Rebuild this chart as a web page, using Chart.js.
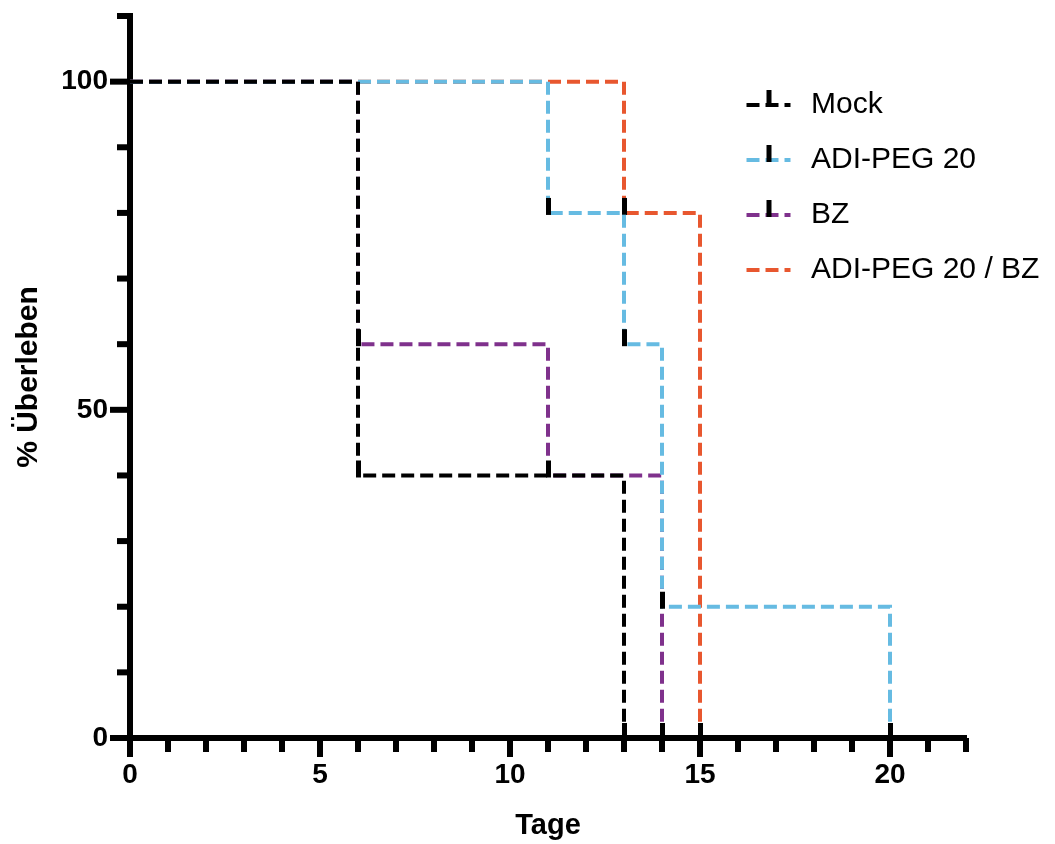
<!DOCTYPE html>
<html>
<head>
<meta charset="utf-8">
<script src="https://cdn.jsdelivr.net/npm/chart.js@4.4.1/dist/chart.umd.min.js"></script>
<style>
  body { margin: 0; background: #fff; }
  #wrap { width: 1055px; height: 844px; }
</style>
</head>
<body>
<div id="wrap"><canvas id="survivalChart"></canvas></div>
<script>
const seriesNames = ['Mock', 'ADI-PEG 20', 'BZ', 'ADI-PEG 20 / BZ'];
const seriesColors = ['#000000', '#66bbe2', '#7f318c', '#e8572f'];

// days at which each curve drops, with the survival level after the drop
const mockDays = [0, 6, 13];
const mockSurvival = [100, 40, 0];
const adiDays = [0, 11, 13, 14, 20];
const adiSurvival = [100, 80, 60, 20, 0];
const bzDays = [0, 6, 11, 14];
const bzSurvival = [100, 60, 40, 0];
const comboDays = [0, 13, 15];
const comboSurvival = [100, 80, 0];

const xTickLabels = [0, 5, 10, 15, 20];
const yTickLabels = [0, 50, 100];

const fontFamily = '"Liberation Sans", Arial, Helvetica, sans-serif';
Chart.defaults.font.family = fontFamily;
Chart.defaults.color = '#000';

// black censor tick that sits on top of each drop
function makeCensorMark() {
  const c = document.createElement('canvas');
  c.width = 5; c.height = 34;
  const g = c.getContext('2d');
  g.fillStyle = '#000';
  g.fillRect(0, 2, 5, 17);
  return c;
}
const censorMark = makeCensorMark();

function legendGlyph(color, withStem) {
  const c = document.createElement('canvas');
  c.width = 46; c.height = 34;
  const g = c.getContext('2d');
  g.strokeStyle = color;
  g.lineWidth = 4;
  g.setLineDash([13, 6]);
  g.beginPath();
  g.moveTo(1, 17);
  g.lineTo(45, 17);
  g.stroke();
  if (withStem) {
    g.fillStyle = '#000';
    g.fillRect(21, 2, 5, 17);
  }
  return c;
}
const legendGlyphs = seriesColors.map((col, i) => legendGlyph(col, i < 3));

function toPoints(days, values) {
  return days.map((d, i) => ({x: d, y: values[i]}));
}

function curve(i, days, values) {
  return {
    label: seriesNames[i],
    data: toPoints(days, values),
    borderColor: seriesColors[i],
    backgroundColor: seriesColors[i],
    borderWidth: 4,
    borderDash: [13, 6],
    borderCapStyle: 'butt',
    stepped: true,
    fill: false,
    pointStyle: censorMark,
    pointRadius: ctx => ctx.dataIndex === 0 ? 0 : 4,
    clip: false
  };
}

// tick marks: long ones where a label sits, short ones at every step
const axisTicks = {
  id: 'axisTicks',
  afterDraw(chart) {
    const {ctx, chartArea, scales: {x, y}} = chart;
    ctx.save();
    ctx.fillStyle = '#000';
    const xStep = x.options.ticks.stepSize;
    for (let v = x.min; v <= x.max; v += xStep) {
      const px = x.getPixelForValue(v);
      const len = xTickLabels.includes(v) ? 19 : 14;
      ctx.fillRect(px - 3, chartArea.bottom, 6, len);
    }
    const yStep = y.options.ticks.stepSize;
    for (let v = y.min; v <= y.max; v += yStep) {
      const py = y.getPixelForValue(v);
      const len = yTickLabels.includes(v) ? 20 : 13;
      ctx.fillRect(chartArea.left - len, py - 3, len, 6);
    }
    ctx.restore();
  }
};

// move the legend into the upper right of the plot
const legendPlacer = {
  id: 'legendPlacer',
  afterLayout(chart) {
    const lg = chart.legend;
    lg.left = 716;
    lg.top = 65;
    lg.right = chart.width;
    lg.width = lg.right - lg.left;
  }
};

new Chart(document.getElementById('survivalChart'), {
  type: 'line',
  data: {
    datasets: [
      curve(0, mockDays, mockSurvival),
      curve(1, adiDays, adiSurvival),
      curve(2, bzDays, bzSurvival),
      curve(3, comboDays, comboSurvival)
    ]
  },
  options: {
    responsive: true,
    maintainAspectRatio: false,
    devicePixelRatio: 1,
    animation: false,
    events: [],
    layout: { padding: {top: 16, right: 89, left: 0, bottom: 0} },
    plugins: {
      tooltip: { enabled: false },
      legend: {
        position: 'chartArea',
        align: 'start',
        labels: {
          usePointStyle: true,
          pointStyleWidth: 55,
          padding: 25,
          color: '#000',
          font: { size: 30 },
          generateLabels(chart) {
            const items = Chart.defaults.plugins.legend.labels.generateLabels(chart);
            items.forEach((it, i) => { it.pointStyle = legendGlyphs[i]; });
            return items;
          }
        }
      }
    },
    scales: {
      x: {
        type: 'linear',
        min: 0,
        max: 22,
        afterFit: s => { s.height = 106; s.paddingLeft = 0; s.paddingRight = 0; },
        grid: { display: false, drawTicks: false },
        border: { display: true, color: '#000', width: 6 },
        ticks: {
          stepSize: 1,
          autoSkip: false,
          maxRotation: 0,
          padding: 20,
          color: '#000',
          font: { size: 28, weight: 'bold' },
          callback: v => xTickLabels.includes(v) ? String(v) : null
        },
        title: {
          display: true,
          text: 'Tage',
          color: '#000',
          font: { size: 29, weight: 'bold' },
          padding: {top: 0, bottom: 1}
        }
      },
      y: {
        type: 'linear',
        min: 0,
        max: 110,
        afterFit: s => { s.width = 130; s.paddingTop = 0; s.paddingBottom = 0; },
        grid: { display: false, drawTicks: false },
        border: { display: true, color: '#000', width: 6 },
        ticks: {
          stepSize: 10,
          autoSkip: false,
          padding: 22,
          color: '#000',
          font: { size: 28, weight: 'bold' },
          callback: v => yTickLabels.includes(v) ? String(v) : null
        },
        title: {
          display: true,
          text: '% Überleben',
          color: '#000',
          font: { size: 30, weight: 'bold' },
          padding: {top: 11, bottom: 0}
        }
      }
    }
  },
  plugins: [axisTicks, legendPlacer]
});
</script>
</body>
</html>
